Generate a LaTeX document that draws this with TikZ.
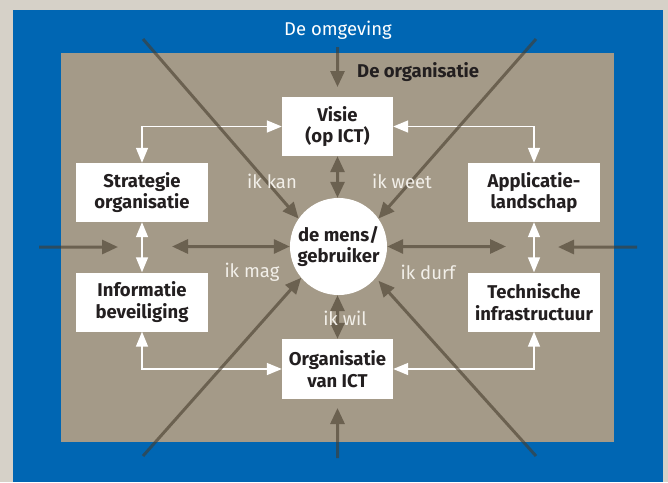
\documentclass[tikz,border=0pt]{standalone}
\usepackage{fontspec}
\setmainfont{Fira Sans}
\usetikzlibrary{arrows.meta}
\definecolor{bgc}{RGB}{214,209,200}
\definecolor{blu}{RGB}{0,102,179}
\definecolor{tanc}{RGB}{164,154,136}
\definecolor{drk}{RGB}{70,59,43}
\definecolor{txt}{RGB}{35,31,32}
\definecolor{lbl}{RGB}{242,239,233}
\begin{document}
\begin{tikzpicture}[x=1pt,y=-1pt,
  box/.style={fill=white, minimum width=132pt, minimum height=59pt, align=center,
    font=\fontsize{18.5}{21.5}\selectfont\bfseries, text=txt, inner sep=0pt},
  nbox/.style={box, minimum width=111pt},
  lab/.style={font=\fontsize{18.5}{21}\selectfont, text=lbl, inner sep=1pt},
  wht/.style={draw=white, line width=1.5pt, {Triangle[length=15pt,width=12pt]}-{Triangle[length=15pt,width=12pt]}},
  dk/.style={draw=drk, line width=3pt, -{Triangle[length=16pt,width=14pt]}},
  dkk/.style={draw=drk, line width=3pt, {Triangle[length=16pt,width=14pt]}-{Triangle[length=16pt,width=14pt]}}
]
\useasboundingbox (0,0) rectangle (668,482);
\fill[bgc] (0,0) rectangle (668,482);
\fill[blu] (13,10) rectangle (663,482);
\fill[tanc] (61,53) rectangle (614,442);

\node[font=\fontsize{18.5}{21}\selectfont, text=white] (omg) at (338,30) {De omgeving};
\node[font=\fontsize{18.5}{21}\selectfont\bfseries, text=txt, anchor=west, inner sep=0pt] (orgl) at (357,72) {De organisatie};

\node[nbox] (visie) at (337.5,126.5) {Visie\\(op ICT)};
\node[box] (strat) at (142,192.5) {Strategie\\organisatie};
\node[box] (appl) at (534,192.5) {Applicatie-\\landschap};
\node[box] (info) at (142,302) {Informatie\\beveiliging};
\node[box] (tech) at (534,302) {Technische\\infrastructuur};
\node[nbox, minimum height=60pt] (org) at (337.5,369) {Organisatie\\van ICT};
\node[circle, fill=white, minimum size=97pt, inner sep=0pt, align=center,
  font=\fontsize{18.5}{21.5}\selectfont\bfseries, text=txt] (mens) at (338.5,246.5) {de mens/\\gebruiker};

% white connectors
\draw[wht] (strat.north) |- (visie.west);
\draw[wht] (visie.east) -| (appl.north);
\draw[wht] (strat.south) -- (info.north);
\draw[wht] (appl.south) -- (tech.north);
\draw[wht] (info.south) |- (org.west);
\draw[wht] (tech.south) |- (org.east);

% free ends
\coordinate (lh) at (172,246.5);
\coordinate (rh) at (506,246.5);
\coordinate (lo) at (39,247);
\coordinate (loT) at (118,247);
\coordinate (ro) at (637,247);
\coordinate (roT) at (558,247);
\coordinate (to) at (337.5,47);
\coordinate (toT) at (337.5,87);
\coordinate (bo) at (337.5,458);
\coordinate (boT) at (337.5,408);
\coordinate (tl) at (143,39);
\coordinate (tr) at (536,39);
\coordinate (bl) at (143,456);
\coordinate (br) at (536,456);

\begin{scope}[transparency group, opacity=0.6]
\draw[dkk] (visie.south) -- (visie.south |- mens.north);
\draw[dkk] (org.north |- mens.south) -- (org.north);
\draw[dkk] (lh) -- (mens.west);
\draw[dkk] (mens.east) -- (rh);
\draw[dk] (lo) -- (loT);
\draw[dk] (ro) -- (roT);
\draw[dk] (to) -- (toT);
\draw[dk] (bo) -- (boT);
\draw[dk] (tl) -- (mens.145);
\draw[dk] (tr) -- (mens.35);
\draw[dk] (bl) -- (mens.220);
\draw[dk, shorten >=4pt] (br) -- (mens.-40);
\end{scope}

\node[lab] (ikan) at (272,181) {ik kan};
\node[lab] (iweet) at (402,181) {ik weet};
\node[lab] (imag) at (252,272) {ik mag};
\node[lab] (idurf) at (428,272) {ik durf};
\node[lab] (iwil) at (345,318) {ik wil};
\end{tikzpicture}
\end{document}
